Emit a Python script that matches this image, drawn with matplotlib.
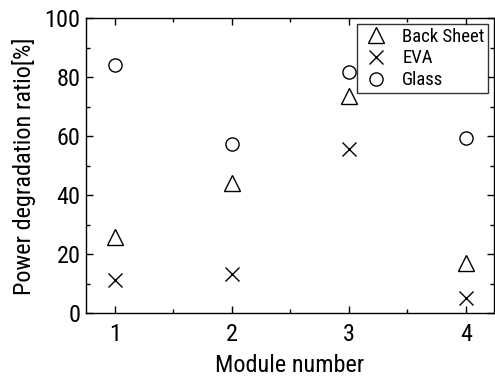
import matplotlib
matplotlib.use("Agg")
import matplotlib.pyplot as plt
from matplotlib.ticker import MultipleLocator

plt.rcParams['font.family'] = ['Roboto Condensed', 'Liberation Sans', 'DejaVu Sans']

modules = [1, 2, 3, 4]
back_sheet = [25.8, 44.0, 73.8, 16.9]
eva = [11.3, 13.2, 55.7, 5.3]
glass = [84.2, 57.4, 81.7, 59.3]

fig = plt.figure(figsize=(4.95, 3.8), dpi=100)
ax = fig.add_axes([0.174, 0.1755, 0.824, 0.7765])

ax.plot(modules, back_sheet, linestyle='none', marker='^', markersize=11,
        markerfacecolor='none', markeredgecolor='black', markeredgewidth=1.0, label='Back Sheet')
ax.plot(modules, eva, linestyle='none', marker='x', markersize=10,
        color='black', markeredgewidth=1.0, label='EVA')
ax.plot(modules, glass, linestyle='none', marker='o', markersize=9.5,
        markerfacecolor='none', markeredgecolor='black', markeredgewidth=1.0, label='Glass')

ax.set_xlim(0.755, 4.24)
ax.set_ylim(0, 100)
ax.xaxis.set_major_locator(MultipleLocator(1))
ax.xaxis.set_minor_locator(MultipleLocator(0.5))
ax.yaxis.set_major_locator(MultipleLocator(20))
ax.yaxis.set_minor_locator(MultipleLocator(10))
ax.tick_params(which='both', direction='in', top=True, right=True, labelsize=17.5, width=1.0)
ax.tick_params(which='major', length=5)
ax.tick_params(which='minor', length=3)
ax.tick_params(axis='x', pad=7)
ax.tick_params(axis='y', pad=4)

ax.set_xlabel('Module number', fontsize=17.5, labelpad=6)
ax.set_ylabel('Power degradation ratio[%]', fontsize=17.5, labelpad=6)

leg = ax.legend(loc='upper right', fontsize=13.5, frameon=True, fancybox=False,
                edgecolor='black', handletextpad=0.6, labelspacing=0.2,
                borderaxespad=0.3, borderpad=0.2, handlelength=1.6)
leg.get_frame().set_linewidth(1.0)

for s in ax.spines.values():
    s.set_linewidth(1.0)

fig.savefig('out.png', dpi=100)
